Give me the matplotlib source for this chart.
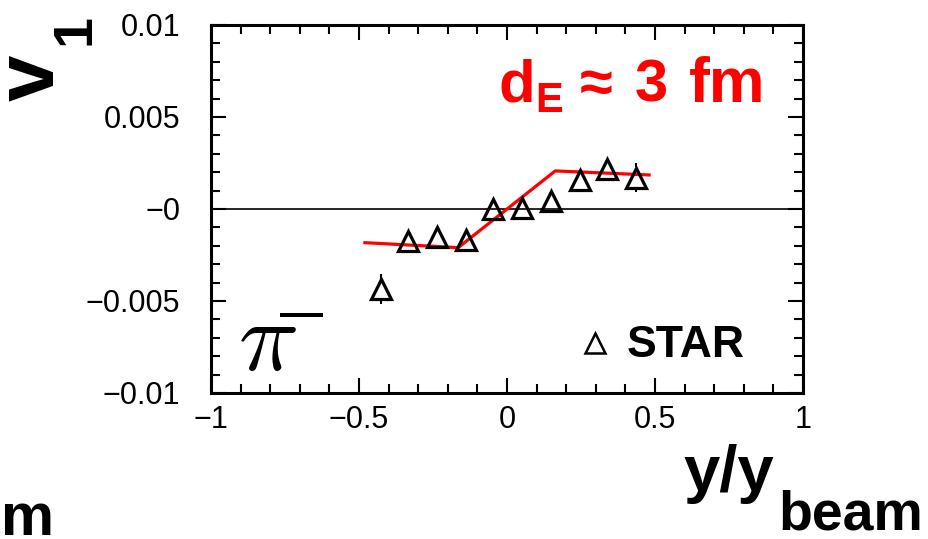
import numpy as np
import matplotlib
matplotlib.use("Agg")
import matplotlib.pyplot as plt
from matplotlib.ticker import MultipleLocator, FixedLocator, FixedFormatter

# STAR pi- directed flow v1 vs normalized rapidity
y_star = [-0.425, -0.333, -0.236, -0.140, -0.046, 0.051, 0.147, 0.245, 0.338, 0.436]
v1_star = [-0.00435, -0.00174, -0.00152, -0.00168, -0.00002, 0.00005, 0.00046, 0.00155, 0.00220, 0.00171]
v1_err = [0.0008, 0.0004, 0.0004, 0.0004, 0.0004, 0.0004, 0.0004, 0.0005, 0.0005, 0.0008]

# model curve (d_E ~ 3 fm)
y_model = [-0.48, -0.165, 0.163, 0.48]
v1_model = [-0.00183, -0.00210, 0.00207, 0.00185]

xticks = [-1, -0.5, 0, 0.5, 1]
xticklabels = ["\u22121", "\u22120.5", "0", "0.5", "1"]
yticks = [-0.01, -0.005, 0, 0.005, 0.01]
yticklabels = ["\u22120.01", "\u22120.005", "\u22120", "0.005", "0.01"]

W, H = 929, 539
plt.rcParams["font.family"] = ["Liberation Sans", "DejaVu Sans"]

fig = plt.figure(figsize=(W / 100, H / 100), dpi=100)
ax = fig.add_axes([211 / W, 1 - 393 / H, 592 / W, 368 / H])


def fx(px):
    return px / W


def fy(py):
    return 1 - py / H


ax.set_xlim(-1, 1)
ax.set_ylim(-0.01, 0.01)
ax.xaxis.set_major_locator(FixedLocator(xticks))
ax.xaxis.set_major_formatter(FixedFormatter(xticklabels))
ax.xaxis.set_minor_locator(MultipleLocator(0.1))
ax.yaxis.set_major_locator(FixedLocator(yticks))
ax.yaxis.set_major_formatter(FixedFormatter(yticklabels))
ax.yaxis.set_minor_locator(MultipleLocator(0.001))
ax.tick_params(which="both", direction="in", top=True, right=True,
               width=1.5, color="black", labelsize=22)
ax.tick_params(which="major", length=10.8)
ax.tick_params(which="minor", length=6.3)
ax.tick_params(axis="y", pad=22)
ax.tick_params(axis="x", pad=9)
for s in ax.spines.values():
    s.set_linewidth(2.2)

ax.axhline(0, color="black", lw=1.2, zorder=1)
ax.plot(y_model, v1_model, color="#ff0000", lw=2.3, zorder=2)

ms = 15
ax.plot(y_star, v1_star, ls="none", marker="^", ms=ms, mfc="none",
        mec="black", mew=2.3, zorder=3)

# error bars drawn outside the marker body
fig.canvas.draw()
p0 = ax.transData.transform((0, 0))
p1 = ax.transData.transform((0, 0.001))
px_per_unit = (p1[1] - p0[1]) / 0.001
gap = (ms * fig.dpi / 72 / 2) / px_per_unit
for xv, yv, ev in zip(y_star, v1_star, v1_err):
    if ev > gap:
        ax.vlines([xv, xv], [yv + gap, yv - ev], [yv + ev, yv - gap],
                  color="black", lw=1.5, zorder=3)

# legend
ax.plot([0.297], [-0.00727], ls="none", marker="^", ms=14, mfc="none",
        mec="black", mew=1.8, zorder=3)
fig.text(fx(627), fy(357), "STAR", fontsize=32, fontweight="bold",
         ha="left", va="baseline")

# particle label
fig.text(fx(238), fy(370), r"$\pi$", fontsize=72, math_fontfamily="cm",
         ha="left", va="baseline")
fig.text(fx(280), fy(326), "\u2014", fontsize=31, fontweight="bold",
         ha="left", va="baseline")

# model annotation
red = "#ff0000"
fig.text(fx(499), fy(102), "d", fontsize=43, fontweight="bold", color=red,
         ha="left", va="baseline")
fig.text(fx(535), fy(112), "E", fontsize=30, fontweight="bold", color=red,
         ha="left", va="baseline")
fig.text(fx(580), fy(102), "\u2248", fontsize=43, fontweight="bold",
         color=red, ha="left", va="baseline")
fig.text(fx(635), fy(102), "3", fontsize=43, fontweight="bold",
         color=red, ha="left", va="baseline")
fig.text(fx(689), fy(102), "fm", fontsize=45, fontweight="bold",
         color=red, ha="left", va="baseline")

# axis titles
fig.text(fx(54), fy(101), "v", fontsize=60, fontweight="bold", rotation=90,
         rotation_mode="anchor", ha="left", va="baseline")
fig.text(fx(90), fy(45), "1", fontsize=40, fontweight="bold", rotation=90,
         rotation_mode="anchor", ha="left", va="baseline")
fig.text(fx(683), fy(491), "y/y", fontsize=47, fontweight="bold",
         ha="left", va="baseline")
fig.text(fx(778), fy(530), "beam", fontsize=40, fontweight="bold",
         ha="left", va="baseline")
fig.text(fx(1), fy(535), "m", fontsize=43, fontweight="bold",
         ha="left", va="baseline")

fig.savefig("out.png", dpi=100)
